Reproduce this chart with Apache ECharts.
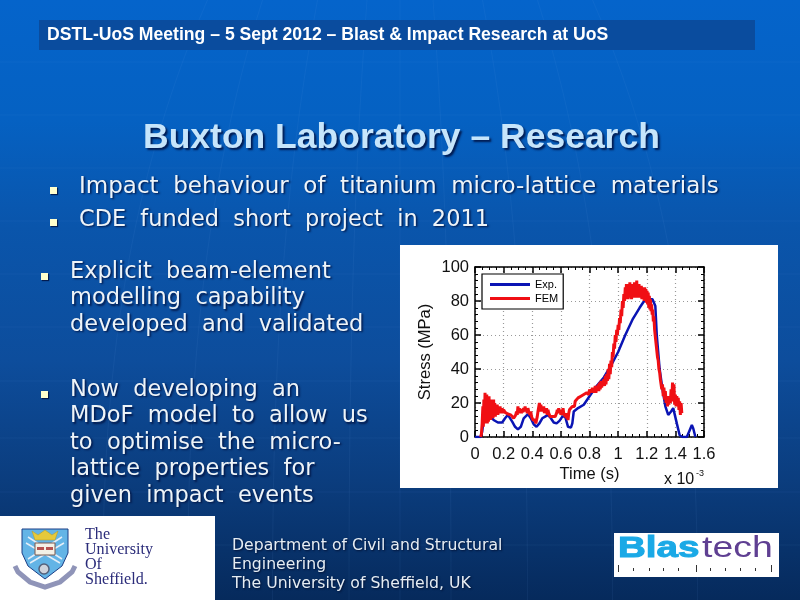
<!DOCTYPE html>
<html>
<head>
<meta charset="utf-8">
<style>html,body{margin:0;padding:0;background:#0a5ab8}#chart{width:800px;height:600px}</style>
<script src="https://cdn.jsdelivr.net/npm/echarts@6/dist/echarts.min.js"></script>
</head>
<body>
<div id="chart"></div>
<script>
const xTicks = [0, 0.2, 0.4, 0.6, 0.8, 1, 1.2, 1.4, 1.6];
const yTicks = [0, 20, 40, 60, 80, 100];
const headerText = 'DSTL-UoS Meeting – 5 Sept 2012 – Blast & Impact Research at UoS';
const titleText = 'Buxton Laboratory – Research';
const topBullets = ['Impact  behaviour  of  titanium  micro-lattice  materials', 'CDE  funded  short  project  in  2011'];
const leftBullets = [
    ['Explicit  beam-element', 'modelling  capability', 'developed  and  validated'],
    ['Now  developing  an', 'MDoF  model  to  allow  us', 'to  optimise  the  micro-', 'lattice  properties  for', 'given  impact  events']
];
const footerLines = ['Department of Civil and Structural', 'Engineering', 'The University of Sheffield, UK'];

// time in ms (axis is x 10^-3 s), stress in MPa
const expData = [
    [0,0],[0.04,0],[0.05,3],[0.06,10],[0.08,14],[0.1,13],[0.13,10],[0.16,8.5],[0.19,8.5],[0.21,11],[0.23,13],
    [0.26,9],[0.28,6],[0.3,4.5],[0.32,6],[0.34,11],[0.37,13.5],[0.39,11],[0.41,7.5],[0.43,6],[0.45,8],[0.47,11],
    [0.49,12],[0.51,13],[0.53,11],[0.55,8.5],[0.57,8],[0.59,9.5],[0.61,12],[0.63,12],[0.65,6],[0.67,5.5],[0.68,8],
    [0.69,15],[0.72,17],[0.76,19],[0.8,24],[0.85,30],[0.9,35],[0.95,42],[1,50],[1.05,60],[1.1,69],[1.15,76],
    [1.19,81],[1.24,81],[1.26,77],[1.27,60],[1.29,40],[1.31,28],[1.33,18],[1.35,13],[1.37,15],[1.385,17],[1.41,8],
    [1.43,1],[1.45,0],[1.48,0],[1.5,4],[1.515,7],[1.525,5],[1.54,0]
];
const femData = [
    [0.04,0],[0.045,2],[0.05,8],[0.055,18],[0.058,6],[0.062,22],[0.066,8],[0.07,26],[0.074,9],[0.078,20],[0.082,25],
    [0.086,8],[0.09,22],[0.094,9],[0.098,24],[0.102,10],[0.106,21],[0.11,10],[0.114,22],[0.118,11],[0.122,21],
    [0.126,11],[0.13,22],[0.134,12],[0.138,20],[0.142,12],[0.146,19],[0.15,13],[0.155,19],[0.16,13],[0.165,18],
    [0.17,14],[0.175,18],[0.18,14],[0.19,17],[0.195,14],[0.2,16],[0.21,14.5],[0.22,15.5],[0.23,13.5],[0.24,14.5],
    [0.25,13],[0.26,13],[0.27,11],[0.28,11],[0.285,13],[0.29,15],[0.295,13],[0.3,18],[0.305,14],[0.31,17],[0.315,14],
    [0.32,16.5],[0.325,14],[0.33,16],[0.335,14.5],[0.34,17],[0.345,15],[0.35,18],[0.355,15],[0.36,17],[0.365,14],
    [0.37,17],[0.375,15],[0.38,16],[0.385,13],[0.39,15],[0.395,12],[0.4,13],[0.405,10],[0.41,11],[0.415,9],[0.42,10],
    [0.425,8],[0.43,10],[0.435,12],[0.44,15],[0.445,14],[0.45,20],[0.455,15],[0.46,19],[0.465,15],[0.47,18],[0.475,15],
    [0.48,18],[0.485,14],[0.49,17],[0.495,14],[0.5,17],[0.505,13],[0.51,16],[0.515,14],[0.52,15],[0.525,12],[0.53,13],
    [0.535,11],[0.54,12],[0.55,11],[0.56,12],[0.57,14],[0.575,16],[0.58,14],[0.585,17],[0.59,14],[0.595,16],[0.6,13],
    [0.605,15],[0.61,13],[0.615,17],[0.62,14],[0.625,15],[0.63,12],[0.635,14],[0.64,11],[0.645,13],[0.65,10],[0.655,14],
    [0.66,16],[0.67,17],[0.68,18],[0.69,19],[0.695,18],[0.7,21],[0.71,20],[0.72,23],[0.73,22],[0.74,24],[0.75,23],
    [0.76,25],[0.77,24],[0.78,26],[0.785,25],[0.79,27],[0.795,25],[0.8,28],[0.805,26],[0.81,28],[0.815,26],[0.82,29],
    [0.825,26],[0.83,29],[0.835,26],[0.84,30],[0.845,26],[0.85,30],[0.855,27],[0.86,31],[0.865,27],[0.87,32],[0.875,28],
    [0.88,33],[0.885,29],[0.89,33],[0.895,30],[0.9,34],[0.905,30],[0.91,36],[0.915,31],[0.92,37],[0.925,33],[0.93,40],
    [0.935,34],[0.94,43],[0.945,37],[0.95,45],[0.955,41],[0.96,50],[0.965,47],[0.97,55],[0.975,52],[0.98,60],[0.985,56],
    [0.99,63],[0.995,60],[1,66],[1.005,63],[1.01,70],[1.015,67],[1.02,75],[1.025,71],[1.03,80],[1.035,76],[1.04,84],
    [1.045,80],[1.05,88],[1.054,81],[1.058,90],[1.062,82],[1.066,89],[1.07,81],[1.074,90],[1.078,82],[1.082,91],
    [1.086,83],[1.09,89],[1.094,81],[1.098,90],[1.102,82],[1.106,88],[1.11,83],[1.114,91],[1.118,82],[1.122,90],
    [1.126,83],[1.13,92],[1.134,82],[1.138,89],[1.142,83],[1.146,90],[1.15,82],[1.154,88],[1.158,83],[1.162,89],
    [1.166,81],[1.17,88],[1.174,81],[1.178,87],[1.182,80],[1.186,88],[1.19,80],[1.194,87],[1.198,79],[1.202,86],
    [1.206,78],[1.21,85],[1.214,76],[1.218,83],[1.222,75],[1.226,81],[1.23,74],[1.234,78],[1.238,72],[1.242,75],
    [1.246,68],[1.25,71],[1.255,63],[1.26,64],[1.265,55],[1.27,55],[1.275,47],[1.28,45],[1.285,40],[1.29,38],[1.295,34],
    [1.3,33],[1.305,28],[1.31,31],[1.315,24],[1.32,29],[1.325,22],[1.33,27],[1.335,20],[1.34,24],[1.345,18],[1.35,23],
    [1.355,19],[1.36,24],[1.365,20],[1.37,28],[1.375,21],[1.38,32],[1.385,22],[1.39,31],[1.395,19],[1.4,25],[1.405,18],
    [1.41,24],[1.415,18],[1.42,23],[1.425,16],[1.43,21],[1.435,13],[1.44,20],[1.445,14]
];

// faint globe lines on the slide background
const bgParallels = [62, 115, 168, 221, 274, 327, 381, 438, 492, 545];
const bgMeridians = [-350, -250, -150, -60, 0, 60, 150, 250, 350];

function textEl(text, x, y, font, fill, extra, el) {
    return Object.assign({type: 'text', x: x, y: y, silent: true, style: Object.assign({text: text, font: font, fill: fill, textVerticalAlign: 'middle'}, extra || {})}, el || {});
}
function shadowStyle(color, off) {
    return {textShadowColor: color, textShadowBlur: 2, textShadowOffsetX: off, textShadowOffsetY: off,
        shadowColor: color, shadowBlur: 2, shadowOffsetX: off, shadowOffsetY: off};
}
function shape(type, shapeDef, style) {
    return {type: type, silent: true, shape: shapeDef, style: style};
}

const bodyFont = '23px "DejaVu Sans"';
const bodyColor = '#eef4f8';
const bodyShadow = shadowStyle('rgba(0,15,60,0.85)', 1.5);
const graphics = [];

bgParallels.forEach(function (y) {
    graphics.push(Object.assign(shape('line', {x1: 0, y1: y, x2: 800, y2: y}, {stroke: 'rgba(120,170,230,0.08)', lineWidth: 1}), {z: -12}));
});
bgMeridians.forEach(function (d) {
    graphics.push(Object.assign(shape('bezierCurve', {x1: 400 + d * 0.55, y1: 0, cpx1: 400 + d * 0.8, cpy1: 200, cpx2: 400 + d * 0.85, cpy2: 400, x2: 400 + d * 0.85, y2: 600}, {stroke: 'rgba(120,170,230,0.08)', lineWidth: 1, fill: 'none'}), {z: -12}));
});

// white panel behind the plot
graphics.push(Object.assign(shape('rect', {x: 400, y: 245, width: 378, height: 243}, {fill: '#ffffff'}), {z: -10}));

// header bar
graphics.push(shape('rect', {x: 39, y: 20, width: 716, height: 30}, {fill: '#0a4c9e'}));
graphics.push(textEl(headerText, 47, 35, 'bold 17.6px "Liberation Sans"', '#ffffff'));

// title
graphics.push(textEl(titleText, 143, 138, 'bold 35.5px "Liberation Sans"', '#c6e5fb', shadowStyle('rgba(0,20,70,0.9)', 2)));

// top bullets
topBullets.forEach(function (line, i) {
    const y = 187 + i * 33;
    graphics.push(shape('rect', {x: 50, y: y + (i ? -1 : 0), width: 7, height: 7}, {fill: '#ffffcc', shadowColor: 'rgba(0,15,60,0.8)', shadowOffsetX: 1, shadowOffsetY: 1, shadowBlur: 1}));
    graphics.push(textEl(line, 79, y, bodyFont, bodyColor, bodyShadow, {scaleX: i ? 0.975 : 1}));
});

// left bullets
[272, 390].forEach(function (rowY, k) {
    graphics.push(shape('rect', {x: 41, y: rowY + 1, width: 7, height: 7}, {fill: '#ffffcc', shadowColor: 'rgba(0,15,60,0.8)', shadowOffsetX: 1, shadowOffsetY: 1, shadowBlur: 1}));
    leftBullets[k].forEach(function (line, i) {
        graphics.push(textEl(line, 70, rowY + i * 26.5, '22.5px "DejaVu Sans"', bodyColor, bodyShadow));
    });
});

// footer text
footerLines.forEach(function (line, i) {
    graphics.push(textEl(line, 232, 546 + i * 19, '15.7px "DejaVu Sans"', '#e6edf3', shadowStyle('rgba(0,10,40,0.8)', 1)));
});

// Sheffield logo panel
graphics.push(shape('rect', {x: 0, y: 516, width: 215, height: 84}, {fill: '#ffffff'}));
graphics.push(shape('polyline', {points: [[15,566],[18,572],[30,582],[45,587],[60,582],[72,572],[75,566]]}, {stroke: '#8f94b8', lineWidth: 5, fill: 'none'}));
graphics.push(shape('polygon', {points: [[22,529],[68,529],[68,553],[62,566],[45,579],[28,566],[22,553]]}, {fill: '#63b4e6', stroke: '#1d3f86', lineWidth: 1}));
[[28,537,62,559],[62,537,28,559],[26,543,60,563],[64,543,30,563]].forEach(function (p) {
    graphics.push(shape('line', {x1: p[0], y1: p[1], x2: p[2], y2: p[3]}, {stroke: '#e4eef8', lineWidth: 1.5}));
});
graphics.push(shape('polygon', {points: [[32,531],[38,535],[45,530],[52,535],[58,531],[55,540],[35,540]]}, {fill: '#e6c93a', stroke: '#b79a20', lineWidth: 0.5}));
graphics.push(shape('rect', {x: 35, y: 543, width: 20, height: 12}, {fill: '#f4f1e6', stroke: '#7a5a50', lineWidth: 1}));
graphics.push(shape('rect', {x: 37, y: 547, width: 7, height: 3}, {fill: '#b5524f'}));
graphics.push(shape('rect', {x: 46, y: 547, width: 7, height: 3}, {fill: '#b5524f'}));
graphics.push(shape('circle', {cx: 44, cy: 569, r: 5}, {fill: '#cfd3dc', stroke: '#54607a', lineWidth: 1.5}));
['The', 'University', 'Of', 'Sheffield.'].forEach(function (line, i) {
    graphics.push(textEl(line, 85, 535 + i * 15, '16.1px "Liberation Serif"', '#2b2c7a'));
});

// Blastech logo panel
graphics.push(shape('rect', {x: 614, y: 533, width: 165, height: 44}, {fill: '#ffffff'}));
graphics.push(textEl('Blas', 618, 549, 'bold 29px "Liberation Sans"', '#1aa9e6', {stroke: '#1aa9e6', lineWidth: 1}, {scaleX: 1.33}));
graphics.push(textEl('tech', 702, 549, '29px "Liberation Sans"', '#5f3f92', null, {scaleX: 1.29}));
[618, 633, 649, 663, 678, 696, 710, 725, 740, 755, 771].forEach(function (x, i) {
    const tall = i === 0 || i === 5 || i === 10;
    graphics.push(shape('rect', {x: x, y: tall ? 565 : 568, width: 1, height: tall ? 7 : 3}, {fill: '#333333'}));
});

// exponent next to the time axis
graphics.push(textEl('x 10', 664, 480, '16px "Liberation Sans"', '#111111'));
graphics.push(textEl('-3', 696, 474, '9px "Liberation Sans"', '#111111'));

const chart = echarts.init(document.getElementById('chart'), null, {renderer: 'canvas', width: 800, height: 600});

const tickStyle = {show: true, inside: true, length: 6, lineStyle: {color: '#000', width: 1.5}};
const xMinor = {show: true, splitNumber: 4, length: 3, lineStyle: {color: '#000', width: 1}};
const yMinor = {show: true, splitNumber: 5, length: 3, lineStyle: {color: '#000', width: 1}};
const gridDots = {show: true, lineStyle: {color: '#999999', type: [1, 3], width: 1.2}};
const axisLine = {show: true, onZero: false, lineStyle: {color: '#000', width: 1.5}};
const labelFont = {color: '#111', fontFamily: 'Liberation Sans', fontSize: 16.5};

const option = {
    animation: false,
    backgroundColor: new echarts.graphic.LinearGradient(0, 0, 0, 1, [
        {offset: 0, color: '#0564cb'},
        {offset: 0.2, color: '#0561c2'},
        {offset: 0.38, color: '#0a55ab'},
        {offset: 0.6, color: '#0d4d9c'},
        {offset: 0.8, color: '#0b3d7e'},
        {offset: 1, color: '#062a5c'}
    ]),
    grid: {left: 475, top: 267, width: 229, height: 170},
    legend: {
        show: true, left: 482, top: 274, orient: 'vertical', itemGap: 3, itemWidth: 40, itemHeight: 3,
        padding: [5, 5, 5, 8], backgroundColor: '#ffffff', borderColor: '#000000', borderWidth: 1.2,
        icon: 'rect', textStyle: {fontFamily: 'Liberation Sans', fontSize: 11, color: '#000'},
        data: ['Exp.', 'FEM']
    },
    xAxis: [
        {
            type: 'value', min: 0, max: 1.6, interval: 0.2,
            name: 'Time (s)', nameLocation: 'middle', nameGap: 29,
            nameTextStyle: labelFont,
            axisLine: axisLine, axisTick: tickStyle, minorTick: xMinor, splitLine: gridDots,
            axisLabel: Object.assign({margin: 9, customValues: xTicks, formatter: function (v) { return String(v); }}, labelFont)
        },
        {
            type: 'value', position: 'top', min: 0, max: 1.6, interval: 0.2,
            axisLine: axisLine, axisTick: tickStyle, minorTick: xMinor, splitLine: {show: false}, axisLabel: {show: false}
        }
    ],
    yAxis: [
        {
            type: 'value', min: 0, max: 100, interval: 20,
            name: 'Stress (MPa)', nameLocation: 'middle', nameGap: 41,
            nameTextStyle: labelFont,
            axisLine: axisLine, axisTick: tickStyle, minorTick: yMinor, splitLine: gridDots,
            axisLabel: Object.assign({margin: 6, customValues: yTicks}, labelFont)
        },
        {
            type: 'value', position: 'right', min: 0, max: 100, interval: 20,
            axisLine: axisLine, axisTick: tickStyle, minorTick: yMinor, splitLine: {show: false}, axisLabel: {show: false}
        }
    ],
    series: [
        {name: 'Exp.', type: 'line', data: expData, showSymbol: false, color: '#0a14b4', lineStyle: {width: 2.5, color: '#0a14b4'}, z: 3},
        {name: 'FEM', type: 'line', data: femData, showSymbol: false, color: '#f00f14', lineStyle: {width: 3, color: '#f00f14'}, z: 4}
    ],
    graphic: {elements: graphics}
};

chart.setOption(option);
</script>
</body>
</html>
